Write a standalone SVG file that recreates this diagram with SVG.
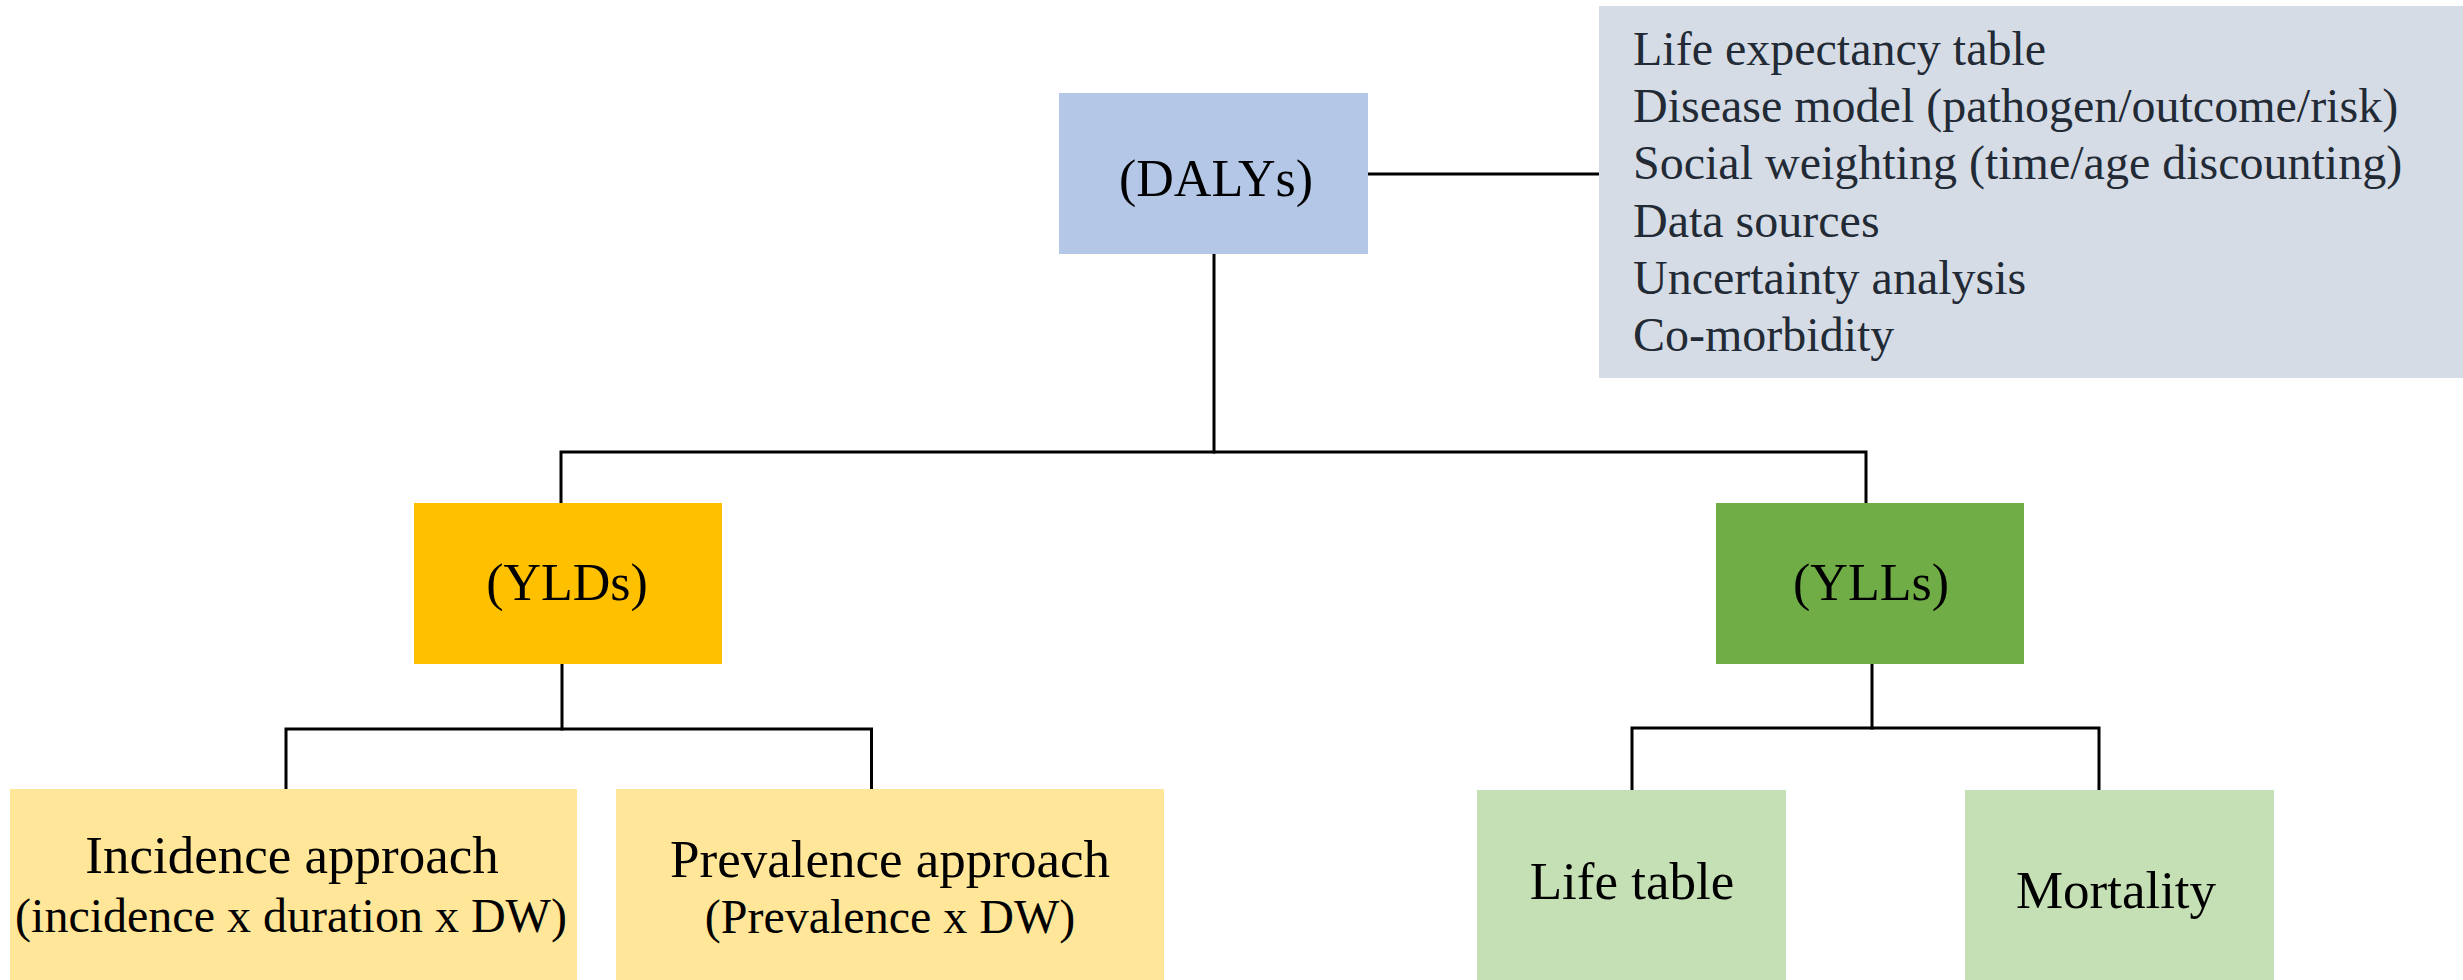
<svg xmlns="http://www.w3.org/2000/svg" width="2463" height="980" viewBox="0 0 2463 980">
<style>
  .t { font-family: "Liberation Serif", "Times New Roman", serif; fill: #000; text-anchor: middle; }
  .h { font-size: 52px; }
  .s { font-size: 53px; }
  .p { font-size: 48px; }
  .g { font-family: "Liberation Serif", "Times New Roman", serif; font-size: 48px; fill: #222A35; }
  .conn { fill: none; stroke: #000; stroke-width: 3; stroke-linecap: square; stroke-linejoin: miter; }
</style>
<rect width="2463" height="980" fill="#FFFFFF"/>
<g id="connectors">
  <path class="conn" d="M1368 174 H1599"/>
  <path class="conn" d="M1214 254 V452"/>
  <path class="conn" d="M561 503 V452 H1866 V503"/>
  <path class="conn" d="M562 664 V729"/>
  <path class="conn" d="M286 789 V729 H871.5 V789"/>
  <path class="conn" d="M1872 664 V728"/>
  <path class="conn" d="M1632 790 V728 H2099 V790"/>
</g>
<g id="factors">
  <rect x="1599" y="6" width="864" height="372" fill="#D6DCE5"/>
  <text class="g" x="1633" y="65">Life expectancy table</text>
  <text class="g" x="1633" y="122">Disease model (pathogen/outcome/risk)</text>
  <text class="g" x="1633" y="179">Social weighting (time/age discounting)</text>
  <text class="g" x="1633" y="237">Data sources</text>
  <text class="g" x="1633" y="294">Uncertainty analysis</text>
  <text class="g" x="1633" y="351">Co-morbidity</text>
</g>
<g id="dalys">
  <rect x="1059" y="93" width="309" height="161" fill="#B4C7E7"/>
  <text class="t h" x="1216" y="196">(DALYs)</text>
</g>
<g id="ylds">
  <rect x="414" y="503" width="308" height="161" fill="#FFC000"/>
  <text class="t h" x="567" y="600">(YLDs)</text>
</g>
<g id="ylls">
  <rect x="1716" y="503" width="308" height="161" fill="#70AD47"/>
  <text class="t h" x="1871" y="600">(YLLs)</text>
</g>
<g id="incidence">
  <rect x="10" y="789" width="567" height="191" fill="#FFE699"/>
  <text class="t s" x="292" y="873">Incidence approach</text>
  <text class="t p" x="291" y="932">(incidence x duration x DW)</text>
</g>
<g id="prevalence">
  <rect x="616" y="789" width="548" height="191" fill="#FFE699"/>
  <text class="t s" x="890" y="877">Prevalence approach</text>
  <text class="t p" x="890" y="933">(Prevalence x DW)</text>
</g>
<g id="lifetable">
  <rect x="1477" y="790" width="309" height="190" fill="#C5E0B4"/>
  <text class="t s" x="1632" y="899">Life table</text>
</g>
<g id="mortality">
  <rect x="1965" y="790" width="309" height="190" fill="#C5E0B4"/>
  <text class="t s" x="2116" y="908">Mortality</text>
</g>
</svg>
